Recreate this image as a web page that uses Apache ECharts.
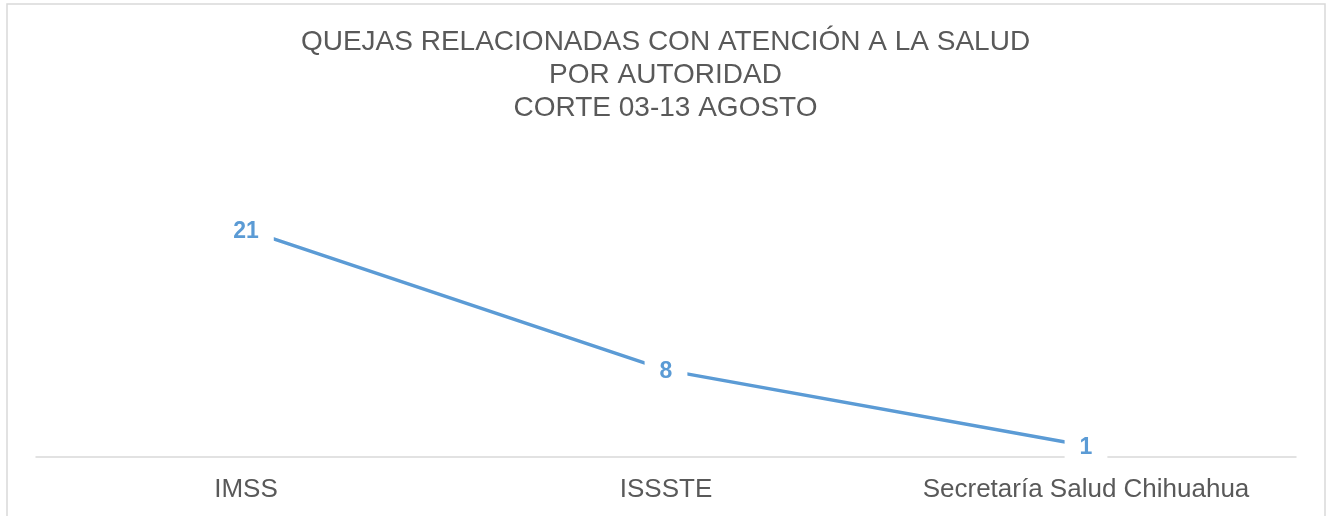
<!DOCTYPE html>
<html>
<head>
    <meta charset="utf-8">
    <title>Quejas relacionadas con atención a la salud</title>
    <script src="https://cdn.jsdelivr.net/npm/echarts@6.0.0/dist/echarts.min.js"></script>
    <style>
        body { margin: 0; background: #fff; }
        #chart { width: 1331px; height: 516px; }
    </style>
</head>
<body>
    <div id="chart"></div>
    <script>
        // datos
        var autoridades = ['IMSS', 'ISSSTE', 'Secretaría Salud Chihuahua'];
        var quejas = [21, 8, 1];

        var myChart = echarts.init(document.getElementById('chart'));

        var option = {
            backgroundColor: '#fff',
            animation: false,
            title: {
                text: 'QUEJAS RELACIONADAS CON ATENCIÓN A LA SALUD\nPOR AUTORIDAD\nCORTE 03-13 AGOSTO',
                left: 'center',
                top: 21,
                textStyle: {
                    fontFamily: 'Liberation Sans, Arial, sans-serif',
                    fontSize: 28,
                    fontWeight: 'normal',
                    color: '#595959',
                    lineHeight: 33
                }
            },
            graphic: [{
                type: 'rect',
                shape: { x: 7, y: 4, width: 1318, height: 520 },
                style: { fill: 'none', stroke: '#D9D9D9', lineWidth: 1.5 },
                silent: true
            }],
            grid: {
                left: 36,
                right: 35,
                top: 186.5,
                bottom: 59.5
            },
            xAxis: {
                type: 'category',
                data: autoridades,
                boundaryGap: true,
                axisLine: { lineStyle: { color: '#D9D9D9', width: 1.5 } },
                axisTick: { show: false },
                axisLabel: {
                    interval: 0,
                    hideOverlap: false,
                    margin: 20,
                    fontFamily: 'Liberation Sans, Arial, sans-serif',
                    fontSize: 26,
                    color: '#595959'
                }
            },
            yAxis: {
                type: 'value',
                min: 0,
                max: 25,
                show: false
            },
            series: [{
                type: 'line',
                data: quejas,
                symbol: 'circle',
                symbolSize: 1,
                showSymbol: true,
                lineStyle: { color: '#5B9BD5', width: 3.5 },
                itemStyle: { color: '#5B9BD5' },
                label: {
                    show: true,
                    position: 'inside',
                    offset: [0, 2],
                    fontFamily: 'Liberation Sans, Arial, sans-serif',
                    fontSize: 23,
                    fontWeight: 'bold',
                    color: '#5B9BD5',
                    backgroundColor: '#fff',
                    padding: [3, 15]
                }
            }]
        };

        myChart.setOption(option);
    </script>
</body>
</html>
